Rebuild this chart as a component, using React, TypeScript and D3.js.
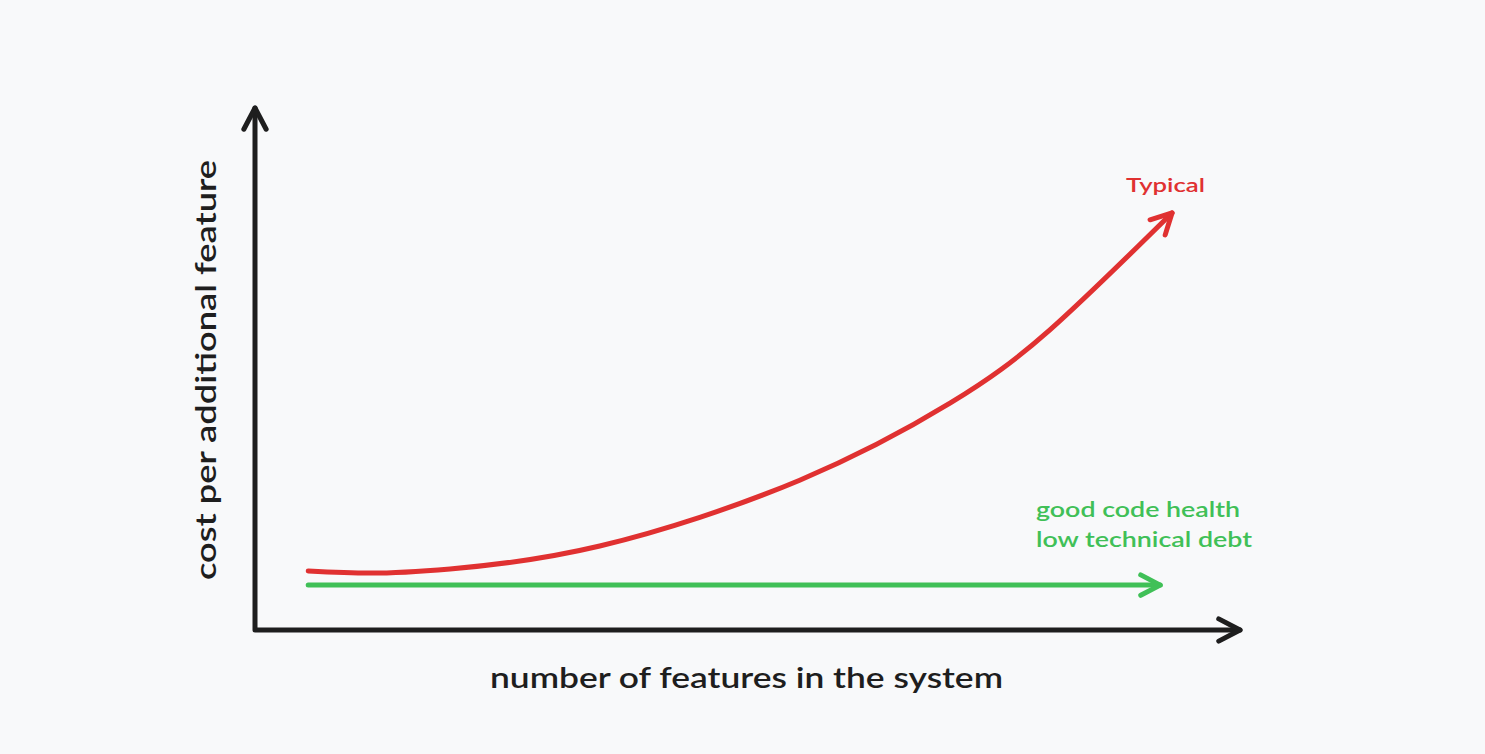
import React from "react";
import * as d3 from "d3";

const W = 1485;
const H = 754;

// x: number of features (0-100), y: cost per additional feature (0-100)
const typicalX = [5.4, 11.7, 19.8, 35.0, 55.3, 70.6, 80.7, 93.1];
const typicalY = [11.3, 10.9, 11.7, 16.1, 28.7, 43.5, 57.5, 79.9];
const goodX = [5.4, 91.9];
const goodY = [8.6, 8.6];

const xLabel = "number of features in the system";
const yLabel = "cost per additional feature";
const typicalLabel = "Typical";
const goodLabels = ["good code health", "low technical debt"];

const BLACK = "#1e1e1e";
const RED = "#e03131";
const GREEN = "#40c057";
const FONT = "Lato, 'Noto Sans', sans-serif";

function arrowHead(p0: [number, number], p1: [number, number], len = 22, ang = Math.PI / 6.5) {
  const a = Math.atan2(p1[1] - p0[1], p1[0] - p0[0]);
  const b1: [number, number] = [p1[0] - len * Math.cos(a - ang), p1[1] - len * Math.sin(a - ang)];
  const b2: [number, number] = [p1[0] - len * Math.cos(a + ang), p1[1] - len * Math.sin(a + ang)];
  return `M${b1[0]},${b1[1]}L${p1[0]},${p1[1]}L${b2[0]},${b2[1]}`;
}

export default function App() {
  const x = d3.scaleLinear().domain([0, 100]).range([255, 1240]);
  const y = d3.scaleLinear().domain([0, 100]).range([630, 108]);

  const line = d3
    .line<[number, number]>()
    .x((d) => x(d[0]))
    .y((d) => y(d[1]))
    .curve(d3.curveNatural);

  const typical: [number, number][] = typicalX.map((v, i) => [v, typicalY[i]]);
  const good: [number, number][] = goodX.map((v, i) => [v, goodY[i]]);

  const tp = typical.map((d) => [x(d[0]), y(d[1])] as [number, number]);
  const gp = good.map((d) => [x(d[0]), y(d[1])] as [number, number]);

  const x0 = x(0), y0 = y(0), xMax = x(100), yMax = y(100);

  return (
    <svg
      width={W}
      height={H}
      style={{ position: "absolute", left: 0, top: 0, background: "#f8f9fa" }}
    >
      <rect width={W} height={H} fill="#f8f9fa" />
      {/* axes */}
      <path
        d={`M${x0},${yMax}L${x0},${y0}L${xMax},${y0}`}
        fill="none"
        stroke={BLACK}
        strokeWidth={5}
        strokeLinecap="round"
        strokeLinejoin="round"
      />
      <path d={arrowHead([x0, y0], [x0, yMax], 24)} fill="none" stroke={BLACK} strokeWidth={5} strokeLinecap="round" strokeLinejoin="round" />
      <path d={arrowHead([x0, y0], [xMax, y0], 24)} fill="none" stroke={BLACK} strokeWidth={5} strokeLinecap="round" strokeLinejoin="round" />

      {/* typical */}
      <path d={line(typical) || ""} fill="none" stroke={RED} strokeWidth={5} strokeLinecap="round" />
      <path
        d={arrowHead([tp[tp.length - 1][0] - 10, tp[tp.length - 1][1] + 10], tp[tp.length - 1], 23)}
        fill="none"
        stroke={RED}
        strokeWidth={5}
        strokeLinecap="round"
        strokeLinejoin="round"
      />

      {/* good */}
      <path d={line(good) || ""} fill="none" stroke={GREEN} strokeWidth={5} strokeLinecap="round" />
      <path
        d={arrowHead(gp[0], gp[1], 22)}
        fill="none"
        stroke={GREEN}
        strokeWidth={5}
        strokeLinecap="round"
        strokeLinejoin="round"
      />

      {/* labels */}
      <text x={1126} y={192} fill={RED} fontFamily={FONT} fontSize={20} fontWeight={600} textLength={79} lengthAdjust="spacingAndGlyphs">
        {typicalLabel}
      </text>
      <text x={1036} y={517} fill={GREEN} fontFamily={FONT} fontSize={21} fontWeight={600} textLength={204} lengthAdjust="spacingAndGlyphs">
        {goodLabels[0]}
      </text>
      <text x={1036} y={547} fill={GREEN} fontFamily={FONT} fontSize={21} fontWeight={600} textLength={216} lengthAdjust="spacingAndGlyphs">
        {goodLabels[1]}
      </text>
      <text x={490} y={688} fill={BLACK} fontFamily={FONT} fontSize={28} fontWeight={600} textLength={513} lengthAdjust="spacingAndGlyphs">
        {xLabel}
      </text>
      <text
        transform="translate(216,580) rotate(-90)"
        fill={BLACK}
        fontFamily={FONT}
        fontSize={28}
        fontWeight={600}
        textLength={420}
        lengthAdjust="spacingAndGlyphs"
      >
        {yLabel}
      </text>
    </svg>
  );
}
